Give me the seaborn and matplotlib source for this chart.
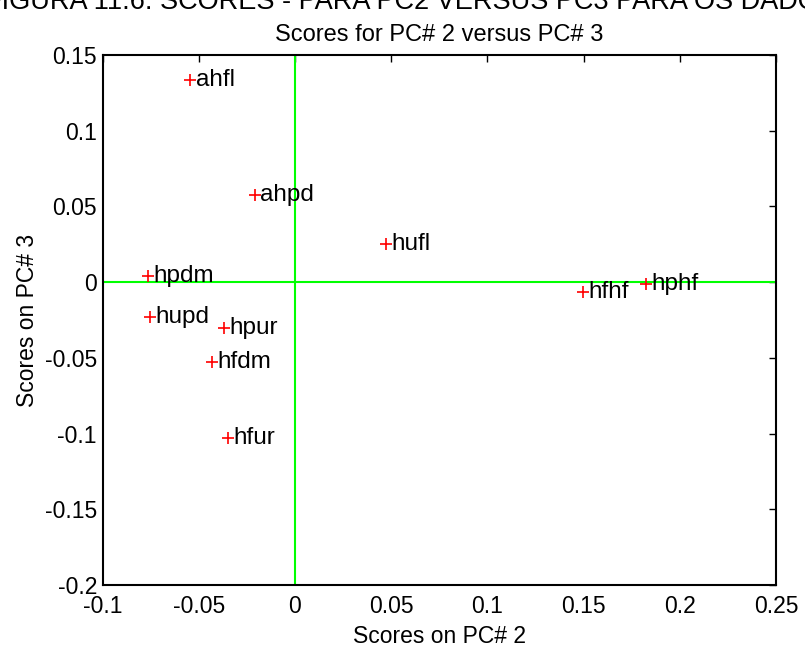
import matplotlib
matplotlib.use("Agg")
import matplotlib.pyplot as plt
import seaborn as sns
import pandas as pd

# PCA scores for each sample: principal component 2 vs principal component 3
samples = ["ahfl", "ahpd", "hufl", "hpdm", "hupd", "hpur", "hfdm", "hfur", "hfhf", "hphf"]
pc2_scores = [-0.0545, -0.0208, 0.0473, -0.0762, -0.0753, -0.0367, -0.0430, -0.0350, 0.1498, 0.1823]
pc3_scores = [0.1333, 0.0575, 0.0252, 0.0040, -0.0229, -0.0301, -0.0530, -0.1028, -0.0067, -0.0015]

x_ticks = [-0.1, -0.05, 0, 0.05, 0.1, 0.15, 0.2, 0.25]
y_ticks = [-0.2, -0.15, -0.1, -0.05, 0, 0.05, 0.1, 0.15]

df = pd.DataFrame({"sample": samples, "pc2": pc2_scores, "pc3": pc3_scores})

sns.set_style("white")
plt.rcParams["font.family"] = ["Liberation Sans", "DejaVu Sans"]
plt.rcParams["text.color"] = "black"
plt.rcParams["axes.labelcolor"] = "black"

fig = plt.figure(figsize=(8.05, 6.48), dpi=100)
ax = fig.add_axes([102.5 / 805, 1 - 585 / 648, (776 - 102.5) / 805, (585 - 55) / 648])

# zero reference lines
ax.axhline(0, color="#00ff00", lw=1.5, zorder=1)
ax.axvline(0, color="#00ff00", lw=1.5, zorder=1)

sns.scatterplot(data=df, x="pc2", y="pc3", marker="+", color="red", s=80,
                linewidth=1.2, ax=ax, zorder=3, legend=False)

for name, xv, yv in zip(df["sample"], df["pc2"], df["pc3"]):
    ax.annotate(name, (xv, yv), xytext=(4, 0), textcoords="offset points",
                ha="left", va="center", fontsize=17.5, color="black")

ax.set_xlim(-0.1, 0.25)
ax.set_ylim(-0.2, 0.15)
ax.set_xticks(x_ticks)
ax.set_yticks(y_ticks)
ax.set_xticklabels([f"{v:g}" for v in x_ticks])
ax.set_yticklabels([f"{v:g}" for v in y_ticks])
ax.tick_params(direction="in", length=5, width=1, top=True, right=True,
               labelsize=16.5, colors="black")
ax.tick_params(axis="x", pad=7)
ax.tick_params(axis="y", pad=4)
for s in ax.spines.values():
    s.set_visible(True)
    s.set_color("black")
    s.set_linewidth(1.5)

ax.set_xlabel("Scores on PC# 2", fontsize=16.5, labelpad=5, color="black")
ax.set_ylabel("Scores on PC# 3", fontsize=16.5, labelpad=4, color="black")
ax.set_title("Scores for PC# 2 versus PC# 3", fontsize=17, pad=10, color="black")

# figure caption running along the top edge
fig.text(0.5 + 8 / 805, 1 - 9 / 648, "FIGURA 11.6: SCORES - PARA PC2 VERSUS PC3 PARA OS DADOS",
         ha="center", va="baseline", fontsize=19.5, color="black")

fig.savefig("out.png", dpi=100, facecolor="white")
